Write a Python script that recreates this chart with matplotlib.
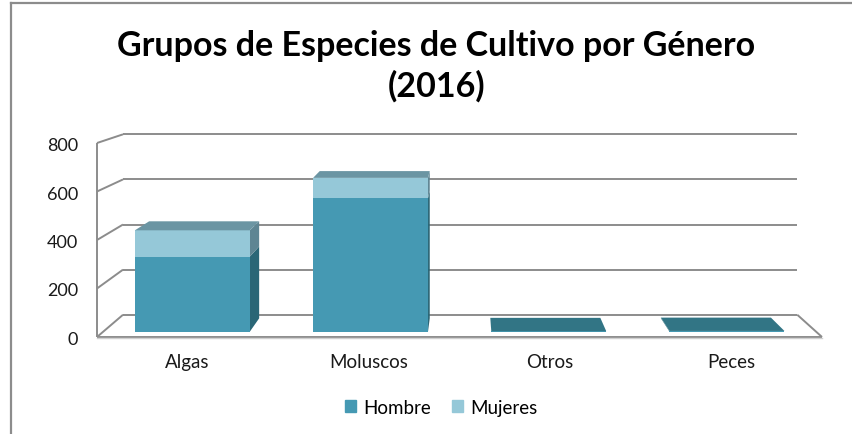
import numpy as np
import matplotlib
matplotlib.use("Agg")
import matplotlib.pyplot as plt
from matplotlib.patches import Polygon, Patch
from matplotlib.lines import Line2D
from matplotlib.transforms import offset_copy

plt.rcParams['font.family'] = ['Lato', 'DejaVu Sans']

categorias = ['Algas', 'Moluscos', 'Otros', 'Peces']
hombre = [315, 560, 2, 3]
mujeres = [110, 85, 0, 0]
yticks = [0, 200, 400, 600, 800]
titulo = 'Grupos de Especies de Cultivo por Género\n(2016)'
series = ['Hombre', 'Mujeres']

col_front = ['#4599B3', '#95C8D8']
col_side = ['#2A6676', '#5E8593']
col_top = ['#327585', '#6B95A3']
grid_col = '#8C8C8C'

# simple perspective: vanishing point and shrink of the back wall
VX, VY, SHRINK = 1.55, 1311.0, 0.07
X0, X1 = -0.5, 3.5
Z0, Z1 = 0.24, 0.84      # bar depth
BW = 0.645               # bar width


def proj(x, y, z):
    s = 1 - SHRINK * z
    return VX + (x - VX) * s, VY + (y - VY) * s


fig = plt.figure(figsize=(8.52, 4.35), dpi=100)
ax = fig.add_axes([97 / 852, (435 - 338) / 435, 725 / 852, 194 / 435])
ax.set_xlim(X0, X1)
ax.set_ylim(0, 800)
ax.axis('off')


def line3(p, q, **kw):
    a, b = proj(*p), proj(*q)
    ax.plot([a[0], b[0]], [a[1], b[1]], color=grid_col, lw=1.4,
            clip_on=False, solid_capstyle='butt', **kw)


def poly3(pts, color, z):
    ax.add_patch(Polygon([proj(*p) for p in pts], closed=True, fc=color,
                         ec='none', clip_on=False, zorder=z))


# walls and floor
for t in yticks:
    line3((X0, t, 1), (X1, t, 1), zorder=1)
    line3((X0, t, 1), (X0, t, 0), zorder=1)
line3((X0, 0, 0), (X0, yticks[-1], 0), zorder=1)
line3((X0, 0, 0), (X1, 0, 0), zorder=1)
line3((X1, 0, 0), (X1, 0, 1), zorder=1)
a, b = proj(X0, 0, 0), proj(X1, 0, 0)
ax.plot([a[0], b[0]], [a[1] - 5, b[1] - 5], color='#D0D0D0', lw=1,
        clip_on=False, zorder=1)

# stacked 3d bars
for i, cat in enumerate(categorias):
    xl, xr = i - BW / 2, i + BW / 2
    base = 0
    segs = [hombre[i], mujeres[i]]
    top_k = max(k for k in range(2) if segs[k] > 0)
    for k, v in enumerate(segs):
        if v <= 0:
            continue
        lo, hi = base, base + v
        zo = 3 + 0.1 * k
        if xr < VX:
            poly3([(xr, lo, Z0), (xr, lo, Z1), (xr, hi, Z1), (xr, hi, Z0)],
                  col_side[k], zo)
        if xl > VX:
            poly3([(xl, lo, Z0), (xl, lo, Z1), (xl, hi, Z1), (xl, hi, Z0)],
                  col_side[k], zo)
        poly3([(xl, lo, Z0), (xr, lo, Z0), (xr, hi, Z0), (xl, hi, Z0)],
              col_front[k], zo + 0.05)
        base = hi
    poly3([(xl, base, Z0), (xr, base, Z0), (xr, base, Z1), (xl, base, Z1)],
          col_top[top_k], 3.5)

# tick labels
tr = offset_copy(ax.transData, fig=fig, x=-19, y=-2, units='dots')
for t in yticks:
    x, y = proj(X0, t, 0)
    ax.text(x, y, str(t), transform=tr, ha='right', va='center',
            fontsize=13, color='#1a1a1a')
tr2 = offset_copy(ax.transData, fig=fig, x=0, y=-25, units='dots')
for i, cat in enumerate(categorias):
    x, y = proj(i, 0, 0)
    ax.text(x, y, cat, transform=tr2, ha='center', va='center',
            fontsize=13.5, color='#1a1a1a')

fig.text(0.512, 0.848, titulo, ha='center', va='center', fontsize=24.5,
         fontweight='bold', linespacing=1.32)

handles = [Patch(color=c) for c in col_front]
fig.legend(handles, series, loc='center', bbox_to_anchor=(0.518, 0.062),
           ncol=2, frameon=False, fontsize=13.5, handlelength=0.6,
           handleheight=0.6, handletextpad=0.4, columnspacing=1.1)

fig.add_artist(Line2D([11 / 852, 11 / 852], [0, 1 - 4 / 435],
                      transform=fig.transFigure, color='#8C8C8C', lw=1.6))
fig.add_artist(Line2D([11 / 852, 1], [1 - 4 / 435, 1 - 4 / 435],
                      transform=fig.transFigure, color='#8C8C8C', lw=1.6))

fig.savefig('out.png', dpi=100)
